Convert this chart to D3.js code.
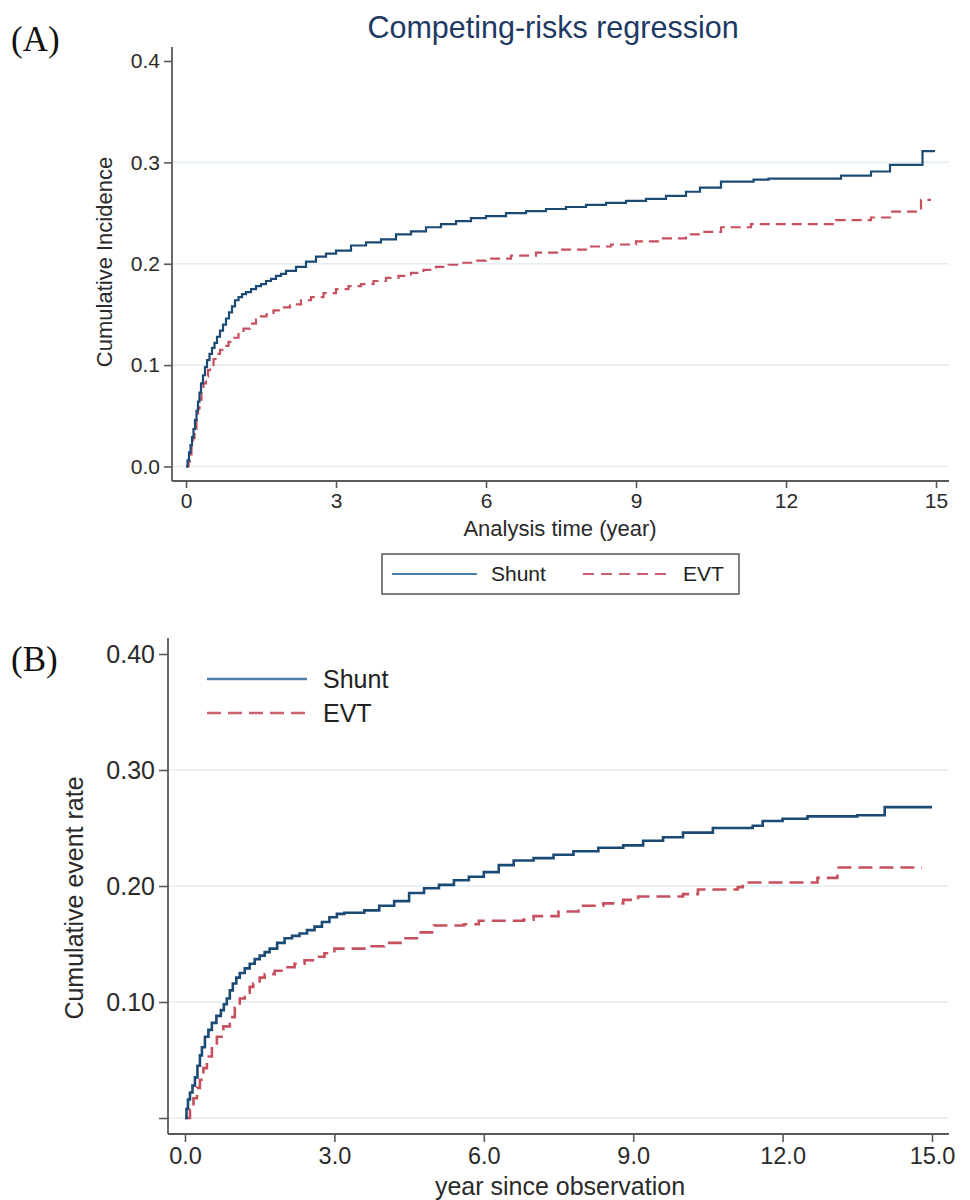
<!DOCTYPE html>
<html><head><meta charset="utf-8">
<script src="https://cdn.jsdelivr.net/npm/d3@7"></script>
<style>
html,body{margin:0;padding:0;background:#fff;}
svg text{font-family:"Liberation Sans",Arial,Helvetica,sans-serif;}
</style></head>
<body>
<svg id="chart" width="970" height="1200"></svg>
<script>
// ---------- DATA ----------
const seriesNames = ["Shunt", "EVT"];

// Panel A: competing-risks cumulative incidence
const shuntA_t = [0,0.03,0.06,0.09,0.12,0.15,0.18,0.21,0.24,0.27,0.3,0.34,0.38,0.42,0.47,0.52,0.57,0.62,0.68,0.74,0.8,0.86,0.92,0.98,1.05,1.12,1.2,1.3,1.4,1.5,1.6,1.7,1.8,1.9,2.0,2.2,2.4,2.6,2.8,3.0,3.3,3.6,3.9,4.2,4.5,4.8,5.1,5.4,5.7,6.0,6.4,6.8,7.2,7.6,8.0,8.4,8.8,9.2,9.6,10.0,10.28,10.7,11.35,11.65,13.0,13.1,13.7,14.08,14.73,14.98];
const shuntA_v = [0,0.006,0.014,0.021,0.029,0.037,0.046,0.055,0.064,0.073,0.082,0.09,0.098,0.105,0.111,0.117,0.122,0.128,0.134,0.14,0.146,0.152,0.158,0.164,0.167,0.17,0.172,0.175,0.178,0.18,0.183,0.185,0.188,0.19,0.193,0.197,0.202,0.207,0.21,0.213,0.218,0.221,0.224,0.229,0.232,0.236,0.239,0.242,0.245,0.247,0.25,0.252,0.254,0.256,0.258,0.26,0.262,0.264,0.267,0.271,0.275,0.281,0.283,0.284,0.284,0.287,0.291,0.2975,0.311,0.311];
const evtA_t = [0,0.05,0.08,0.11,0.14,0.17,0.21,0.24,0.27,0.31,0.35,0.4,0.44,0.48,0.55,0.62,0.68,0.76,0.85,0.94,1.05,1.15,1.28,1.4,1.5,1.61,1.75,1.9,2.08,2.3,2.5,2.75,3.0,3.25,3.5,3.75,4.0,4.25,4.5,4.75,5.0,5.25,5.5,5.75,6.0,6.5,7.0,7.5,8.0,8.5,9.0,9.5,10.0,10.28,10.7,11.3,13.0,13.7,14.08,14.7,14.9];
const evtA_v = [0,0.005,0.012,0.019,0.028,0.037,0.049,0.057,0.066,0.075,0.082,0.089,0.095,0.1,0.106,0.111,0.115,0.119,0.123,0.127,0.132,0.136,0.141,0.145,0.148,0.15,0.154,0.157,0.16,0.164,0.167,0.171,0.175,0.178,0.18,0.183,0.186,0.188,0.191,0.194,0.197,0.199,0.201,0.203,0.205,0.208,0.211,0.214,0.217,0.219,0.222,0.225,0.229,0.2315,0.236,0.239,0.243,0.2456,0.2515,0.263,0.263];

// Panel B: cumulative event rate
const shuntB_t = [0,0.03,0.06,0.1,0.15,0.2,0.25,0.3,0.34,0.4,0.47,0.54,0.63,0.72,0.78,0.84,0.9,0.96,1.03,1.1,1.2,1.3,1.4,1.5,1.6,1.7,1.85,2.0,2.15,2.3,2.45,2.6,2.75,2.9,3.05,3.2,3.6,3.9,4.2,4.5,4.8,5.1,5.4,5.7,6.0,6.3,6.6,7.0,7.4,7.8,8.3,8.8,9.2,9.6,10.0,10.6,11.4,11.6,12.0,12.5,13.5,14.05,15.0];
const shuntB_v = [0,0.008,0.016,0.022,0.028,0.035,0.045,0.054,0.061,0.07,0.076,0.082,0.088,0.093,0.098,0.103,0.11,0.116,0.121,0.125,0.129,0.133,0.137,0.14,0.143,0.146,0.151,0.155,0.157,0.159,0.162,0.165,0.169,0.173,0.176,0.177,0.179,0.183,0.187,0.194,0.198,0.201,0.205,0.208,0.212,0.218,0.222,0.224,0.227,0.23,0.233,0.235,0.239,0.242,0.246,0.25,0.252,0.256,0.258,0.26,0.261,0.268,0.268];
const evtB_t = [0,0.04,0.1,0.17,0.24,0.3,0.37,0.44,0.54,0.64,0.77,0.9,1.0,1.1,1.2,1.3,1.37,1.5,1.6,1.8,2.0,2.2,2.4,2.6,2.8,3.0,3.6,4.0,4.4,4.7,5.0,5.6,5.9,6.8,7.0,7.5,7.9,8.4,8.8,9.1,10.0,10.3,11.1,11.2,12.55,12.7,13.1,14.8];
const evtB_v = [0,0,0.007,0.017,0.026,0.033,0.043,0.053,0.062,0.07,0.079,0.087,0.095,0.103,0.108,0.113,0.116,0.121,0.124,0.127,0.13,0.133,0.136,0.139,0.142,0.146,0.148,0.151,0.155,0.16,0.166,0.167,0.17,0.171,0.174,0.178,0.183,0.185,0.188,0.191,0.193,0.197,0.199,0.203,0.203,0.207,0.216,0.216];

// Tick values / labels
const xTicksA = [0,3,6,9,12,15];
const yTicksA = [0,0.1,0.2,0.3,0.4];
const yTickLabelsA = ["0.0","0.1","0.2","0.3","0.4"];
const xTicksB = [0,3,6,9,12,15];
const xTickLabelsB = ["0.0","3.0","6.0","9.0","12.0","15.0"];
const yTicksB = [0,0.1,0.2,0.3,0.4];
const yTickLabelsB = ["","0.10","0.20","0.30","0.40"];

// ---------- STYLE ----------
const C_SHUNT = "#1b4a75", C_EVT = "#c6505e";
const C_SHUNT_LEG = "#4f80ad", C_EVT_LEG = "#cc606c";
const C_AXIS = "#5a5a5a", C_GRID = "#e3edf2";

const svg = d3.select("#chart");
const zip = (t, v) => t.map((d, i) => ({t: d, v: v[i]}));

function panel(cfg) {
  const g = svg.append("g");
  const x = d3.scaleLinear().domain([0, 15]).range(cfg.xr);
  const y = d3.scaleLinear().domain([0, 0.4]).range(cfg.yr);

  // gridlines
  g.selectAll(".grid").data(cfg.yTicks.filter(d => d < 0.4)).join("line")
    .attr("x1", cfg.axX).attr("x2", cfg.gridEnd)
    .attr("y1", d => y(d)).attr("y2", d => y(d))
    .attr("stroke", C_GRID).attr("stroke-width", 1.6);

  // axes lines
  g.append("line").attr("x1", cfg.axX).attr("x2", cfg.axX)
    .attr("y1", cfg.axTop).attr("y2", cfg.axY)
    .attr("stroke", C_AXIS).attr("stroke-width", 1.8);
  g.append("line").attr("x1", cfg.axX).attr("x2", cfg.gridEnd)
    .attr("y1", cfg.axY).attr("y2", cfg.axY)
    .attr("stroke", C_AXIS).attr("stroke-width", 1.8);

  // x axis
  const xa = g.append("g").attr("transform", `translate(0,${cfg.axY})`)
    .call(d3.axisBottom(x).tickValues(cfg.xTicks).tickSize(cfg.tickLen).tickPadding(cfg.xPad)
      .tickFormat((d, i) => cfg.xLabels[i]));
  xa.select(".domain").remove();
  xa.selectAll(".tick line").attr("stroke", C_AXIS).attr("stroke-width", 1.6);
  xa.selectAll(".tick text").attr("font-size", cfg.tickFs).attr("fill", "#2a2a2a")
    .style("font-family", '"Liberation Sans",Arial,sans-serif');

  // y axis
  const ya = g.append("g").attr("transform", `translate(${cfg.axX},0)`)
    .call(d3.axisLeft(y).tickValues(cfg.yTicks).tickSize(cfg.tickLen + 1).tickPadding(4)
      .tickFormat((d, i) => cfg.yLabels[i]));
  ya.select(".domain").remove();
  ya.selectAll(".tick line").attr("stroke", C_AXIS).attr("stroke-width", 1.6);
  ya.selectAll(".tick text").attr("font-size", cfg.yTickFs).attr("fill", "#2a2a2a")
    .style("font-family", '"Liberation Sans",Arial,sans-serif');

  // lines
  const line = d3.line().x(d => x(d.t)).y(d => y(d.v)).curve(d3.curveStepAfter);
  g.append("path").datum(zip(cfg.evtT, cfg.evtV)).attr("d", line)
    .attr("fill", "none").attr("stroke", C_EVT).attr("stroke-width", cfg.lw)
    .attr("stroke-dasharray", cfg.dash);
  g.append("path").datum(zip(cfg.shT, cfg.shV)).attr("d", line)
    .attr("fill", "none").attr("stroke", C_SHUNT).attr("stroke-width", cfg.lw);

  // y label
  g.append("text").attr("transform", `translate(${cfg.yLabX},${cfg.yLabY}) rotate(-90)`)
    .attr("text-anchor", "middle").attr("font-size", cfg.labFs).attr("fill", "#2a2a2a")
    .text(cfg.yLabel);
  // x label
  g.append("text").attr("x", cfg.xLabX).attr("y", cfg.xLabY)
    .attr("text-anchor", "middle").attr("font-size", cfg.labFs).attr("fill", "#2a2a2a")
    .text(cfg.xLabel);
  return g;
}

// ----- Panel A -----
panel({
  xr: [186, 936], yr: [466.5, 61], axX: 172, axY: 481, axTop: 47, gridEnd: 949,
  xTicks: xTicksA, xLabels: xTicksA.map(String), yTicks: yTicksA, yLabels: yTickLabelsA,
  tickLen: 7, xPad: 5, tickFs: 21, yTickFs: 21, labFs: 22, lw: 2.2, dash: "10,6",
  shT: shuntA_t, shV: shuntA_v, evtT: evtA_t, evtV: evtA_v,
  yLabel: "Cumulative Incidence", yLabX: 112, yLabY: 262,
  xLabel: "Analysis time (year)", xLabX: 560, xLabY: 536
});
svg.append("text").attr("x", 553).attr("y", 38).attr("text-anchor", "middle")
  .attr("font-size", 30.5).attr("fill", "#1e3a64").text("Competing-risks regression");
svg.append("text").attr("x", 11).attr("y", 51).attr("font-size", 35)
  .style("font-family", '"Liberation Serif","Times New Roman",serif').attr("fill", "#111").text("(A)");

// legend A
const legA = svg.append("g");
legA.append("rect").attr("x", 382).attr("y", 554).attr("width", 357).attr("height", 40)
  .attr("fill", "#fff").attr("stroke", "#555").attr("stroke-width", 1.5);
legA.append("line").attr("x1", 392).attr("x2", 477).attr("y1", 574).attr("y2", 574)
  .attr("stroke", C_SHUNT_LEG).attr("stroke-width", 2);
legA.append("text").attr("x", 491).attr("y", 574).attr("dy", "0.35em").attr("font-size", 21)
  .attr("fill", "#222").text(seriesNames[0]);
legA.append("line").attr("x1", 583).attr("x2", 670).attr("y1", 574).attr("y2", 574)
  .attr("stroke", C_EVT_LEG).attr("stroke-width", 2).attr("stroke-dasharray", "11,7");
legA.append("text").attr("x", 683).attr("y", 574).attr("dy", "0.35em").attr("font-size", 21)
  .attr("fill", "#222").text(seriesNames[1]);

// ----- Panel B -----
panel({
  xr: [185, 932], yr: [1118, 654], axX: 168, axY: 1134, axTop: 638, gridEnd: 949,
  xTicks: xTicksB, xLabels: xTickLabelsB, yTicks: yTicksB, yLabels: yTickLabelsB,
  tickLen: 8, xPad: 5, tickFs: 23.5, yTickFs: 25, labFs: 25, lw: 2.6, dash: "14,7",
  shT: shuntB_t, shV: shuntB_v, evtT: evtB_t, evtV: evtB_v,
  yLabel: "Cumulative event rate", yLabX: 83, yLabY: 898,
  xLabel: "year since observation", xLabX: 560, xLabY: 1195
});
svg.append("text").attr("x", 11).attr("y", 671).attr("font-size", 35)
  .style("font-family", '"Liberation Serif","Times New Roman",serif').attr("fill", "#111").text("(B)");

// legend B
const legB = svg.append("g");
legB.append("line").attr("x1", 207).attr("x2", 307).attr("y1", 679).attr("y2", 679)
  .attr("stroke", C_SHUNT_LEG).attr("stroke-width", 2.4);
legB.append("text").attr("x", 323).attr("y", 679).attr("dy", "0.35em").attr("font-size", 25)
  .attr("fill", "#222").text(seriesNames[0]);
legB.append("line").attr("x1", 207).attr("x2", 307).attr("y1", 713).attr("y2", 713)
  .attr("stroke", C_EVT_LEG).attr("stroke-width", 2.4).attr("stroke-dasharray", "14,7");
legB.append("text").attr("x", 323).attr("y", 713).attr("dy", "0.35em").attr("font-size", 25)
  .attr("fill", "#222").text(seriesNames[1]);
</script>
</body></html>
